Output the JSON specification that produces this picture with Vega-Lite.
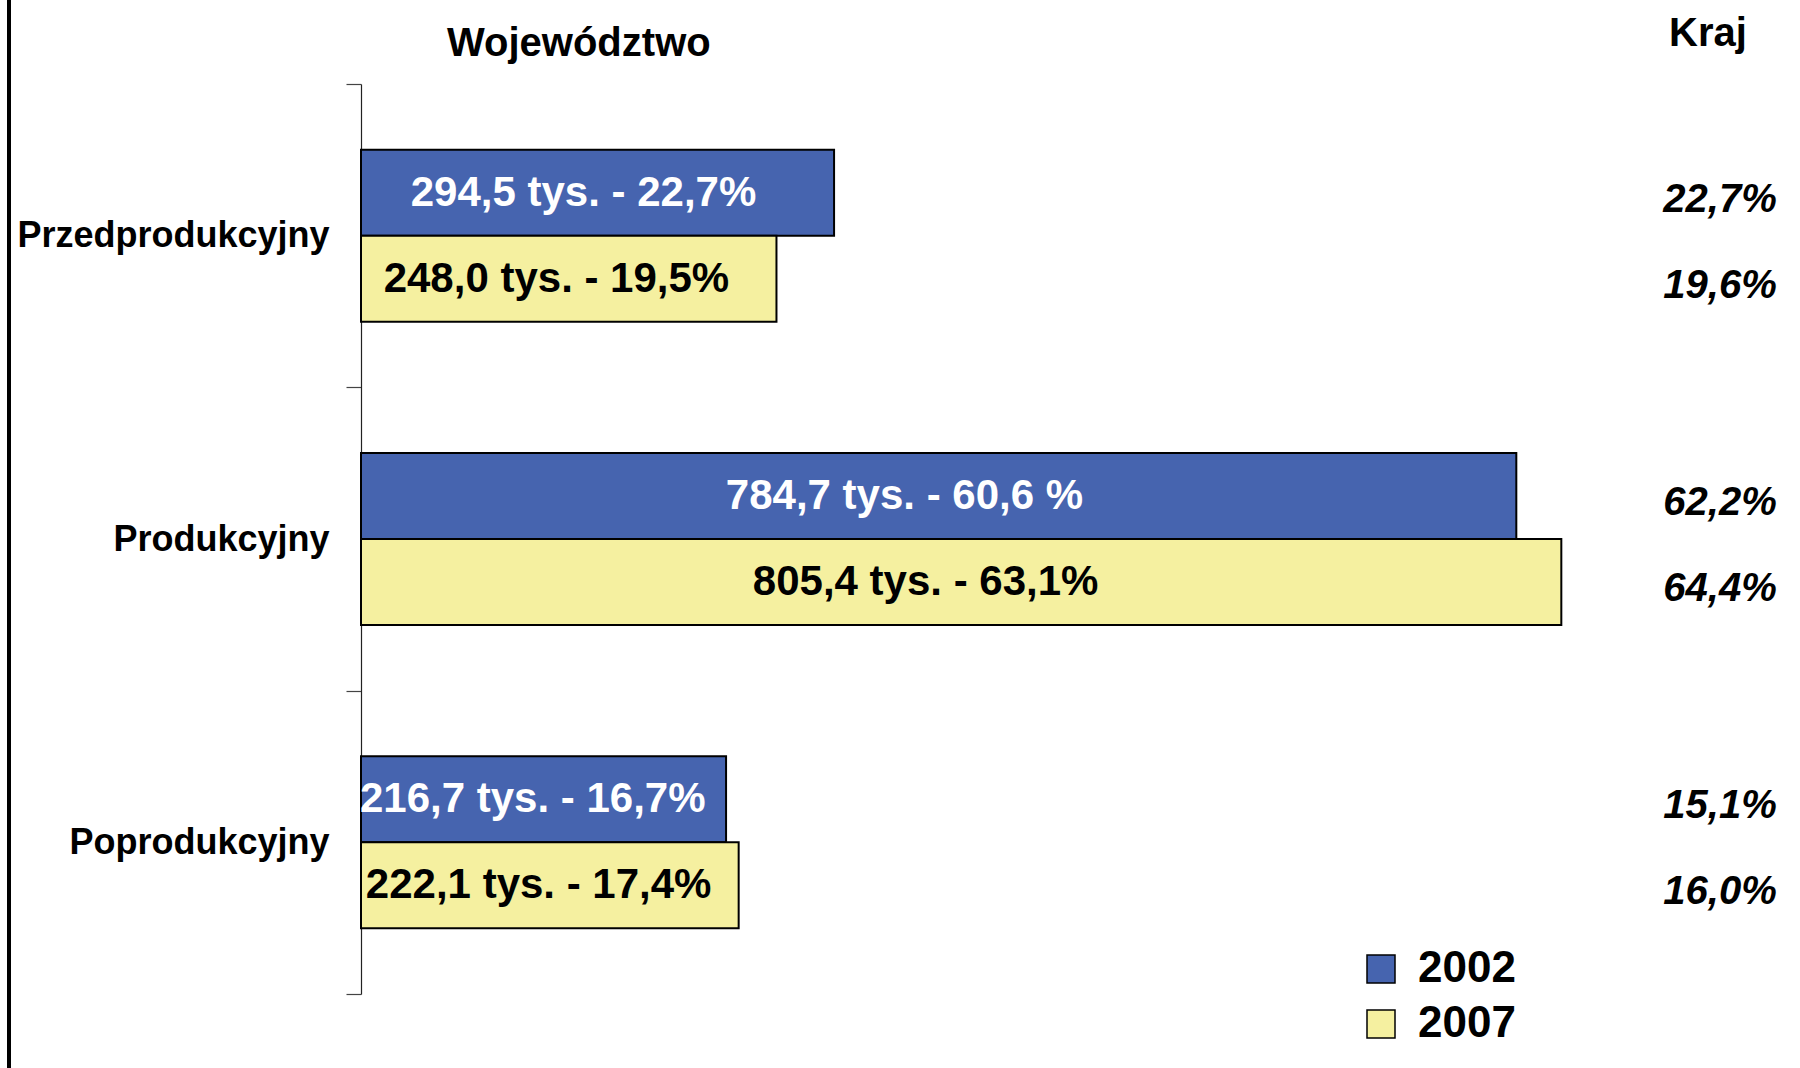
{
  "$schema": "https://vega.github.io/schema/vega-lite/v6.json",
  "padding": {"left": 7, "top": -18, "right": 0, "bottom": 0},
  "background": "white",
  "config": {
    "view": {"stroke": null},
    "font": "Liberation Sans",
    "locale": {"number": {"decimal": ",", "thousands": " ", "grouping": [3], "currency": ["", " zł"]}}
  },
  "data": {
    "values": [
      {"grupa": "Przedprodukcyjny", "rok": "2002", "tys": 294.5, "udzial": 22.7, "etykieta": "294,5 tys. - 22,7%", "kraj": 0.227},
      {"grupa": "Przedprodukcyjny", "rok": "2007", "tys": 248.0, "udzial": 19.5, "etykieta": "248,0 tys. - 19,5%", "kraj": 0.196},
      {"grupa": "Produkcyjny", "rok": "2002", "tys": 784.7, "udzial": 60.6, "etykieta": "784,7 tys. - 60,6 %", "kraj": 0.622},
      {"grupa": "Produkcyjny", "rok": "2007", "tys": 805.4, "udzial": 63.1, "etykieta": "805,4 tys. - 63,1%", "kraj": 0.644},
      {"grupa": "Poprodukcyjny", "rok": "2002", "tys": 216.7, "udzial": 16.7, "etykieta": "216,7 tys. - 16,7%", "kraj": 0.151},
      {"grupa": "Poprodukcyjny", "rok": "2007", "tys": 222.1, "udzial": 17.4, "etykieta": "222,1 tys. - 17,4%", "kraj": 0.160}
    ]
  },
  "spacing": 5,
  "hconcat": [
    {
      "width": 4,
      "height": 1068,
      "mark": {"type": "rect", "color": "black"},
      "encoding": {}
    },
    {
      "spacing": 29,
      "hconcat": [
        {
          "width": 1250,
          "height": 1068,
          "title": {"text": "Województwo", "anchor": "start", "frame": "group", "dx": 86, "offset": -102, "baseline": "middle", "align": "left", "fontSize": 40, "fontWeight": "bold", "font": "Liberation Sans", "color": "black"},
          "encoding": {
            "y": {
              "field": "grupa", "type": "nominal",
              "sort": ["Przedprodukcyjny", "Produkcyjny", "Poprodukcyjny"],
              "scale": {"range": [84, 994], "paddingInner": 0, "paddingOuter": 0},
              "axis": {"title": null, "labelFontSize": 36, "labelFontWeight": "bold", "labelColor": "black", "labelFont": "Liberation Sans", "labelLimit": 0, "labelPadding": 17, "tickSize": 15, "tickBand": "extent", "domainColor": "#222222", "tickColor": "#444444", "domainWidth": 1.2, "tickWidth": 1.2}
            },
            "yOffset": {"field": "rok", "type": "nominal", "scale": {"paddingInner": 0, "paddingOuter": 0.763}}
          },
          "layer": [
            {
              "mark": {"type": "bar", "stroke": "black", "strokeWidth": 2},
              "encoding": {
                "x": {"field": "udzial", "type": "quantitative", "scale": {"domain": [-3.58, 65.86]}, "axis": null},
                "x2": {"datum": -3.58},
                "color": {
                  "field": "rok", "type": "nominal",
                  "scale": {"range": ["#4664AF", "#F5F0A0"]},
                  "legend": {"title": null, "orient": "none", "legendX": 1352, "legendY": 947, "padding": 0, "symbolType": "square", "symbolSize": 784, "symbolStrokeColor": "black", "symbolStrokeWidth": 1.5, "labelFontSize": 44, "labelFontWeight": "bold", "labelColor": "black", "labelFont": "Liberation Sans", "labelOffset": 15, "rowPadding": 11}
                }
              }
            },
            {
              "mark": {"type": "text", "fontSize": 42, "fontWeight": "bold", "baseline": "middle", "align": "center", "font": "Liberation Sans"},
              "encoding": {
                "x": {"field": "udzial", "type": "quantitative", "scale": {"domain": [-3.58, 65.86], "range": [0, 588]}, "axis": null},
                "text": {"field": "etykieta"},
                "color": {"condition": {"test": "datum.rok === '2002'", "value": "white"}, "value": "black"}
              }
            }
          ],
          "resolve": {"scale": {"x": "independent"}}
        },
        {
          "width": 160,
          "height": 1068,
          "title": {"text": "Kraj", "anchor": "middle", "frame": "group", "dx": -12, "offset": -74, "baseline": "middle", "fontSize": 40, "fontWeight": "bold", "font": "Liberation Sans", "color": "black"},
          "mark": {"type": "text", "fontSize": 40, "fontWeight": "bold", "fontStyle": "italic", "baseline": "middle", "dy": 7, "color": "black", "font": "Liberation Sans"},
          "encoding": {
            "y": {
              "field": "grupa", "type": "nominal",
              "sort": ["Przedprodukcyjny", "Produkcyjny", "Poprodukcyjny"],
              "scale": {"range": [84, 994], "paddingInner": 0, "paddingOuter": 0},
              "axis": null
            },
            "yOffset": {"field": "rok", "type": "nominal", "scale": {"paddingInner": 0, "paddingOuter": 0.763}},
            "text": {"field": "kraj", "type": "quantitative", "format": ".1%"}
          }
        }
      ]
    }
  ]
}
